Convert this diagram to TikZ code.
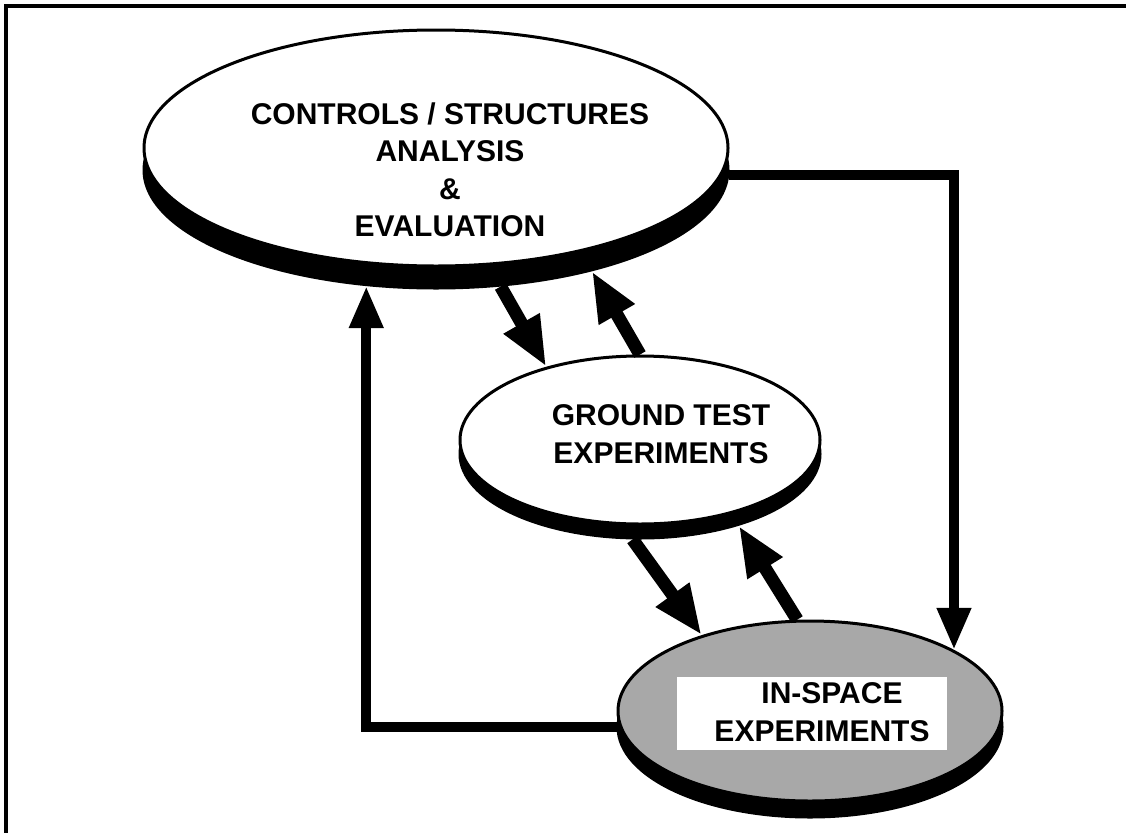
\documentclass[tikz,border=0pt]{standalone}
\usepackage{fontspec}
\setmainfont{Liberation Sans}
\usetikzlibrary{shapes.geometric,arrows.meta}
\begin{document}
\begin{tikzpicture}[x=1pt,y=-1pt,
  ell/.style={ellipse, draw=black, line width=3pt, inner sep=0pt},
  shad/.style={ell, fill=black},
  lbl/.style={font=\fontsize{30}{37.5}\selectfont\bfseries, align=center, inner sep=0pt},
  conn/.style={line width=10pt, -{Triangle[length=42pt,width=32pt]}},
  diag/.style={line width=13pt, -{Triangle[length=50pt,width=38pt]}},
]
\useasboundingbox (0,0) rectangle (1126,833);
\fill[white] (0,0) rectangle (1126,833);
\draw[line width=4pt] (1126,6) -- (6,6) -- (6,833);

% top ellipse
\node[shad, minimum width=584pt, minimum height=236pt] (TS) at (436,170) {};
\node[ell, fill=white, minimum width=584pt, minimum height=236pt] (T) at (436,148) {};
\node[lbl] (Tt) at (450,170) {CONTROLS / STRUCTURES\\ANALYSIS\\\&\\EVALUATION};

% ground ellipse
\node[shad, minimum width=360pt, minimum height=168pt] (GS) at (640,454) {};
\node[ell, fill=white, minimum width=360pt, minimum height=168pt] (G) at (640,440) {};
\node[lbl] (Gt) at (661,434) {GROUND TEST\\EXPERIMENTS};

% in-space ellipse
\node[shad, minimum width=384pt, minimum height=180pt] (SS) at (810,727) {};
\node[ell, fill=black!34, minimum width=384pt, minimum height=180pt] (S) at (810,711) {};
\node[fill=white, minimum width=270pt, minimum height=73pt, inner sep=0pt] (Sbox) at (812,713) {};
\node[lbl] (St) at (822,712) {\hspace*{20pt}IN-SPACE\\EXPERIMENTS};

% diagonal arrows
\draw[diag] (TS.-61.7) -- (G.142);
\draw[diag] (G.90) -- (TS.-33.6);
\draw[diag] (GS.-95) -- (S.145);
\draw[diag] (S.98) -- (GS.-36.8);

% loops
\draw[conn] (SS.west) -| (TS.-121);
\draw[conn] (TS.-1.8) -| (S.23.7);
\end{tikzpicture}
\end{document}
